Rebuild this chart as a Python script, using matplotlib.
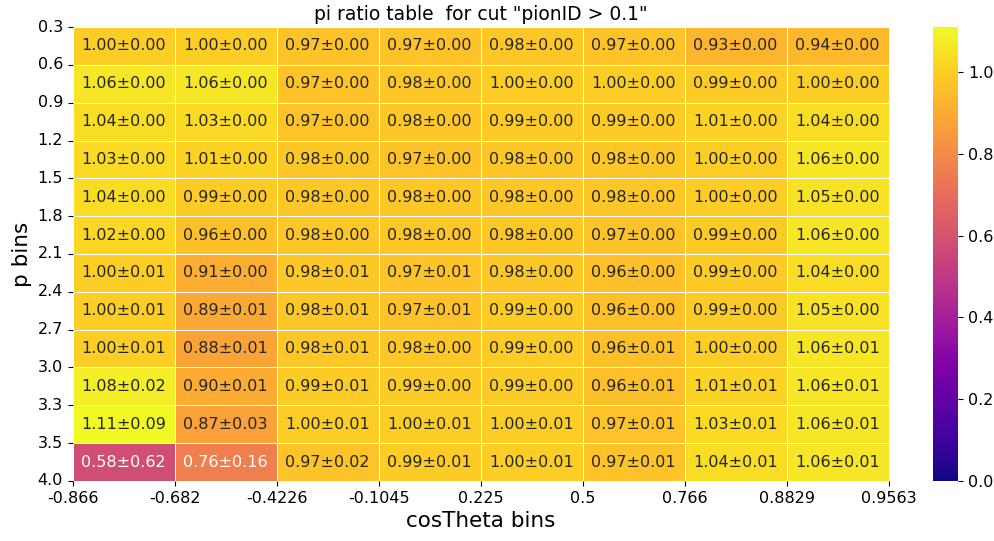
import matplotlib
matplotlib.use("Agg")
import matplotlib.pyplot as plt
import numpy as np
import seaborn as sns

plt.rcParams['font.family'] = ['DejaVu Sans']

# bin edges
p_edges = ["0.3", "0.6", "0.9", "1.2", "1.5", "1.8", "2.1", "2.4", "2.7", "3.0", "3.3", "3.5", "4.0"]
cos_edges = ["-0.866", "-0.682", "-0.4226", "-0.1045", "0.225", "0.5", "0.766", "0.8829", "0.9563"]

# ratio values (rows: p bins, cols: cosTheta bins)
ratio = np.array([
    [1.00, 1.00, 0.97, 0.97, 0.98, 0.97, 0.93, 0.94],
    [1.06, 1.06, 0.97, 0.98, 1.00, 1.00, 0.99, 1.00],
    [1.04, 1.03, 0.97, 0.98, 0.99, 0.99, 1.01, 1.04],
    [1.03, 1.01, 0.98, 0.97, 0.98, 0.98, 1.00, 1.06],
    [1.04, 0.99, 0.98, 0.98, 0.98, 0.98, 1.00, 1.05],
    [1.02, 0.96, 0.98, 0.98, 0.98, 0.97, 0.99, 1.06],
    [1.00, 0.91, 0.98, 0.97, 0.98, 0.96, 0.99, 1.04],
    [1.00, 0.89, 0.98, 0.97, 0.99, 0.96, 0.99, 1.05],
    [1.00, 0.88, 0.98, 0.98, 0.99, 0.96, 1.00, 1.06],
    [1.08, 0.90, 0.99, 0.99, 0.99, 0.96, 1.01, 1.06],
    [1.11, 0.87, 1.00, 1.00, 1.00, 0.97, 1.03, 1.06],
    [0.58, 0.76, 0.97, 0.99, 1.00, 0.97, 1.04, 1.06],
])

# uncertainties
error = np.array([
    [0.00, 0.00, 0.00, 0.00, 0.00, 0.00, 0.00, 0.00],
    [0.00, 0.00, 0.00, 0.00, 0.00, 0.00, 0.00, 0.00],
    [0.00, 0.00, 0.00, 0.00, 0.00, 0.00, 0.00, 0.00],
    [0.00, 0.00, 0.00, 0.00, 0.00, 0.00, 0.00, 0.00],
    [0.00, 0.00, 0.00, 0.00, 0.00, 0.00, 0.00, 0.00],
    [0.00, 0.00, 0.00, 0.00, 0.00, 0.00, 0.00, 0.00],
    [0.01, 0.00, 0.01, 0.01, 0.00, 0.00, 0.00, 0.00],
    [0.01, 0.01, 0.01, 0.01, 0.00, 0.00, 0.00, 0.00],
    [0.01, 0.01, 0.01, 0.00, 0.00, 0.01, 0.00, 0.01],
    [0.02, 0.01, 0.01, 0.00, 0.00, 0.01, 0.01, 0.01],
    [0.09, 0.03, 0.01, 0.01, 0.01, 0.01, 0.01, 0.01],
    [0.62, 0.16, 0.02, 0.01, 0.01, 0.01, 0.01, 0.01],
])

labels = np.array([[f"{r:.2f}\u00b1{e:.2f}" for r, e in zip(rr, ee)]
                   for rr, ee in zip(ratio, error)])

fig = plt.figure(figsize=(9.95, 5.41), dpi=100)
ax = fig.add_axes([0.073, 0.111, 0.82, 0.839])
cax = fig.add_axes([0.938, 0.111, 0.025, 0.839])

sns.heatmap(ratio, annot=labels, fmt="", cmap="plasma", vmin=0, vmax=ratio.max(),
            linewidths=0.5, linecolor="white", ax=ax, cbar_ax=cax,
            annot_kws={"fontsize": 11.5})

ax.set_xticks(np.arange(len(cos_edges)))
ax.set_xticklabels(cos_edges, rotation=0, fontsize=11.5)
ax.set_yticks(np.arange(len(p_edges)))
ax.set_yticklabels(p_edges, rotation=0, fontsize=11.5)
ax.set_xlabel("cosTheta bins", fontsize=15.5)
ax.set_ylabel("p bins", fontsize=15.5)
ax.set_title('pi ratio table  for cut "pionID > 0.1"', fontsize=13.5, pad=5)

cax.set_yticks([0.0, 0.2, 0.4, 0.6, 0.8, 1.0])
cax.tick_params(labelsize=11.5)

fig.savefig("out.png", dpi=100)
